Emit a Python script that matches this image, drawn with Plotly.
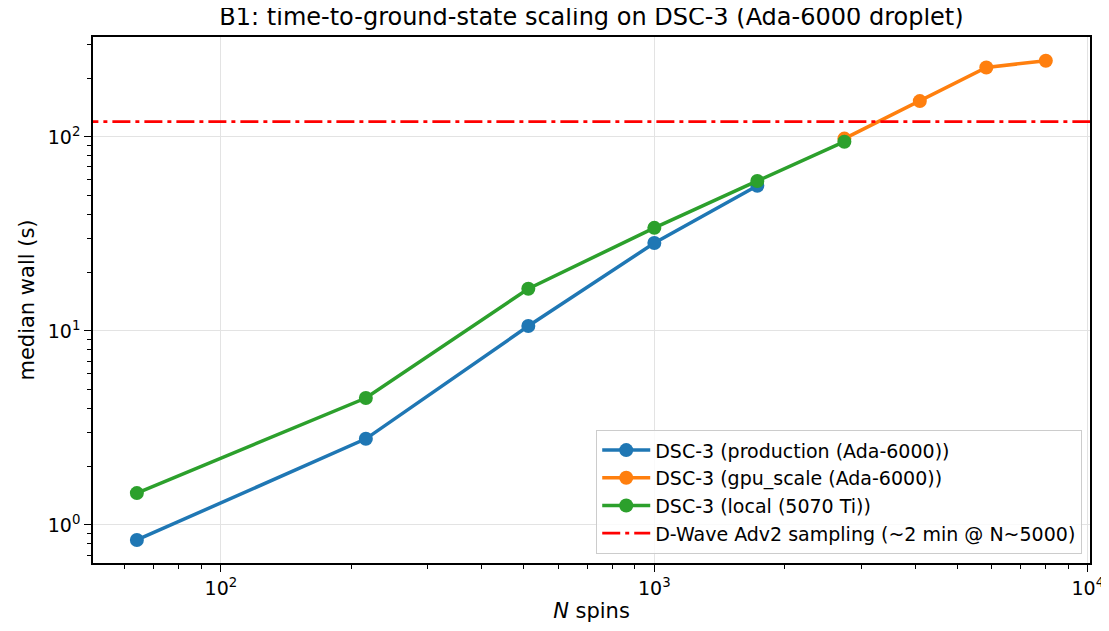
import plotly.graph_objects as go

n_prod = [64, 216, 512, 1000, 1728]
t_prod = [0.837, 2.78, 10.6, 28.4, 56.0]
n_gpu = [2744, 4096, 5832, 8000]
t_gpu = [98.0, 153, 228, 247]
n_local = [64, 216, 512, 1000, 1728, 2744]
t_local = [1.46, 4.51, 16.5, 34.0, 59.3, 94.5]
dwave_t = 120
x_ticks = [100, 1000, 10000]
x_tick_text = ["10<sup>2</sup>", "10<sup>3</sup>", "10<sup>4</sup>"]
y_ticks = [1, 10, 100]
y_tick_text = ["10<sup>0</sup>", "10<sup>1</sup>", "10<sup>2</sup>"]

FONT = "DejaVu Sans"
fig = go.Figure()
for i, (n, t, name, col) in enumerate([
    (n_prod, t_prod, "DSC-3 (production (Ada-6000))", "#1f77b4"),
    (n_gpu, t_gpu, "DSC-3 (gpu_scale (Ada-6000))", "#ff7f0e"),
    (n_local, t_local, "DSC-3 (local (5070 Ti))", "#2ca02c"),
]):
    fig.add_trace(go.Scatter(x=n, y=t, name=name, mode="lines+markers",
                             legendgroup=f"g{i}",
                             line=dict(color=col, width=3.5),
                             marker=dict(color=col, size=14)))
fig.add_trace(go.Scatter(x=[40, 12000], y=[dwave_t, dwave_t], mode="lines",
                         legendgroup="g3",
                         name="D-Wave Adv2 sampling (~2 min @ N~5000)",
                         line=dict(color="red", width=2.8, dash="18px,5px,4px,5px")))

minor_x = [v * d for d in [10, 100, 1000] for v in range(2, 10)]
minor_y = [v * d for d in [0.1, 1, 10, 100] for v in range(2, 10)]
axis_common = dict(type="log", showline=True, linecolor="black", linewidth=1.5,
                   mirror=True, ticks="outside", ticklen=7, tickwidth=1.3, tickcolor="black",
                   showgrid=True, gridcolor="#e3e3e3", gridwidth=1.2, zeroline=False,
                   automargin=False,
                   tickfont=dict(family=FONT, size=19, color="black"))
fig.update_xaxes(**axis_common, range=[1.705, 4.005], tickmode="array",
                 tickvals=x_ticks, ticktext=x_tick_text,
                 minor=dict(tickvals=minor_x, ticks="outside", ticklen=4, tickwidth=1,
                            tickcolor="black", showgrid=False),
                 title=dict(text="<i>N</i> spins", font=dict(family=FONT, size=21, color="black"),
                            standoff=6))
fig.update_yaxes(**axis_common, range=[-0.196, 2.515], tickmode="array",
                 tickvals=y_ticks, ticktext=y_tick_text,
                 minor=dict(tickvals=minor_y, ticks="outside", ticklen=4, tickwidth=1,
                            tickcolor="black", showgrid=False),
                 title=dict(text="median wall (s)", font=dict(family=FONT, size=21, color="black"),
                            standoff=7))
fig.update_layout(
    width=1101, height=623,
    margin=dict(l=85, r=19, t=29, b=68),
    paper_bgcolor="white", plot_bgcolor="white",
    title=dict(text="B1: time-to-ground-state scaling on DSC-3 (Ada-6000 droplet)",
               x=(591.5 - 8) / 1101, xanchor="center", xref="container",
               y=1 - 9 / 623, yanchor="middle", yref="container",
               font=dict(family=FONT, size=24, color="black")),
    legend=dict(x=0.992, y=0.017, xanchor="right", yanchor="bottom",
                bgcolor="rgba(255,255,255,0.8)", bordercolor="#cccccc", borderwidth=1.2,
                font=dict(family=FONT, size=19, color="black"),
                itemwidth=48, tracegroupgap=0),
    showlegend=True,
)
fig.write_html("out.html")
